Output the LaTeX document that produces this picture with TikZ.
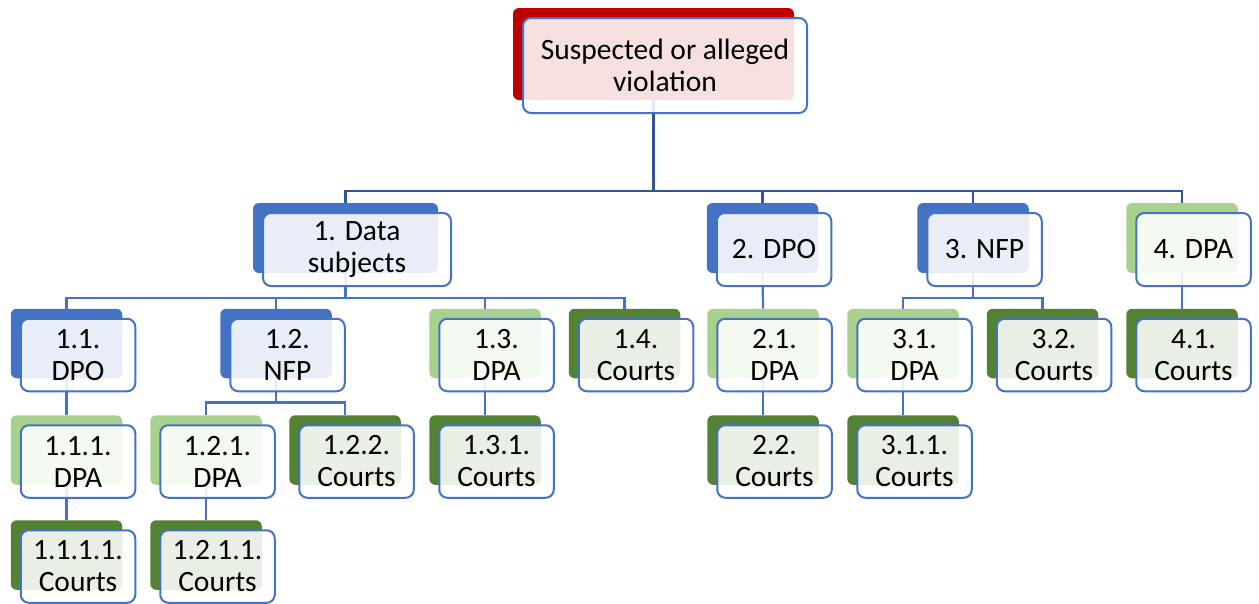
\documentclass[tikz,border=0pt]{standalone}
\usepackage{fontspec}
\setmainfont{Carlito}
\pgfdeclarelayer{background}
\pgfsetlayers{background,main}
\definecolor{cblue}{HTML}{4472C4}
\definecolor{cred}{HTML}{C00000}
\definecolor{clgreen}{HTML}{A9D18E}
\definecolor{cdgreen}{HTML}{548235}
\definecolor{cline}{HTML}{4472C4}
\definecolor{ctopline}{HTML}{2F5597}
\tikzset{
  backbox/.style={rectangle, rounded corners=6pt, inner sep=0pt, draw=none},
  frontbox/.style={rectangle, rounded corners=8pt, inner sep=2pt, draw=cblue, line width=2pt,
    fill=white, fill opacity=0.88, text opacity=1, align=center,
    font=\fontsize{29.5}{32}\selectfont},
  conn/.style={draw=cline, line width=2.2pt},
  topconn/.style={draw=ctopline, line width=2.4pt},
}
% #1 name, #2 back colour, #3 x, #4 y, #5 width, #6 height, #7 text
\newcommand{\orgbox}[7]{%
  \node[backbox, fill=#2, minimum width={(#5-3)*1pt}, minimum height={(#6-3)*1pt}] (b#1) at ({#3-11.5},{#4-11.5}) {};
  \node[frontbox, minimum width={#5*1pt}, minimum height={#6*1pt}] (#1) at (#3,#4) {#7};
}
\begin{document}
\begin{tikzpicture}[x=1pt,y=-1pt]
\useasboundingbox (0,0) rectangle (1259,603);
% level 0
\orgbox{top}{cred}{665}{65.5}{284}{95}{Suspected or alleged\\violation}
% level 1
\orgbox{d1}{cblue}{357}{249.5}{188}{73}{1. Data\\subjects}
\orgbox{d2}{cblue}{774}{249.5}{114.5}{73}{2. DPO}
\orgbox{d3}{cblue}{984.5}{249.5}{114.5}{73}{3. NFP}
\orgbox{d4}{clgreen}{1193.5}{249.5}{114.5}{73}{4. DPA}
% level 2
\orgbox{n11}{cblue}{78}{355}{114.5}{72.5}{1.1.\\DPO}
\orgbox{n12}{cblue}{287.5}{355}{114.5}{72.5}{1.2.\\NFP}
\orgbox{n13}{clgreen}{496.5}{355}{114.5}{72.5}{1.3.\\DPA}
\orgbox{n14}{cdgreen}{636}{355}{114.5}{72.5}{1.4.\\Courts}
\orgbox{n21}{clgreen}{774.5}{355}{114.5}{72.5}{2.1.\\DPA}
\orgbox{n31}{clgreen}{914.5}{355}{114.5}{72.5}{3.1.\\DPA}
\orgbox{n32}{cdgreen}{1054}{355}{114.5}{72.5}{3.2.\\Courts}
\orgbox{n41}{cdgreen}{1193.5}{355}{114.5}{72.5}{4.1.\\Courts}
% level 3
\orgbox{n111}{clgreen}{78}{461.5}{114.5}{72.5}{1.1.1.\\DPA}
\orgbox{n121}{clgreen}{217.5}{461.5}{114.5}{72.5}{1.2.1.\\DPA}
\orgbox{n122}{cdgreen}{356.5}{461.5}{114.5}{72.5}{1.2.2.\\Courts}
\orgbox{n131}{cdgreen}{496.5}{461.5}{114.5}{72.5}{1.3.1.\\Courts}
\orgbox{n22}{cdgreen}{774.5}{461.5}{114.5}{72.5}{2.2.\\Courts}
\orgbox{n311}{cdgreen}{914.5}{461.5}{114.5}{72.5}{3.1.1.\\Courts}
% level 4
\orgbox{n1111}{cdgreen}{78}{566.5}{114.5}{72.5}{1.1.1.1.\\Courts}
\orgbox{n1211}{cdgreen}{217.5}{566.5}{114.5}{72.5}{1.2.1.1.\\Courts}
% connectors
\begin{pgfonlayer}{background}
\foreach \c in {bd1,bd2,bd3,bd4}
  \draw[topconn] (btop.south) -- ++(0,91) -| (\c.north);
\foreach \c in {bn11,bn12,bn13,bn14}
  \draw[conn] (bd1.south) -- ++(0,25) -| (\c.north);
\foreach \c in {bn31,bn32}
  \draw[conn] (bd3.south) -- ++(0,25) -| (\c.north);
\foreach \c in {bn121,bn122}
  \draw[conn] (bn12.south) -- ++(0,24) -| (\c.north);
\draw[conn] (bd2.south) -- (bn21.north);
\draw[conn] (bd4.south) -- (bn41.north);
\draw[conn] (bn11.south) -- (bn111.north);
\draw[conn] (bn13.south) -- (bn131.north);
\draw[conn] (bn21.south) -- (bn22.north);
\draw[conn] (bn31.south) -- (bn311.north);
\draw[conn] (bn111.south) -- (bn1111.north);
\draw[conn] (bn121.south) -- (bn1211.north);
\end{pgfonlayer}
\end{tikzpicture}
\end{document}
